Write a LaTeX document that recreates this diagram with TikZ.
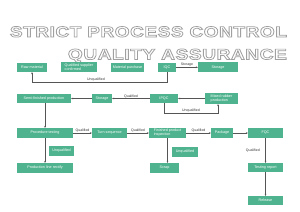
\documentclass[tikz,border=0pt]{standalone}
\usepackage{fontspec}
\setmainfont{Liberation Sans}
\newfontfamily\titlefont[LetterSpace=3]{Liberation Sans}
\usetikzlibrary{arrows.meta}
\definecolor{boxgreen}{HTML}{4FB38F}
\definecolor{linegray}{HTML}{555555}
\definecolor{labgray}{HTML}{333333}
\definecolor{titlegray}{HTML}{A0A0A0}
\newcommand\outlinetext[1]{\special{pdf:literal direct 1 Tr 2 w}#1\special{pdf:literal direct 0 Tr}}
\tikzset{
  box/.style={fill=boxgreen, text=white, inner sep=0pt, align=center, font=\fontsize{10.5}{11.5}\selectfont},
  lab/.style={font=\fontsize{10}{11}\selectfont, text=labgray, inner sep=1.5pt},
  arr/.style={draw=linegray, line width=1.4pt, -{Stealth[length=6pt,width=5pt]}},
  ttl/.style={inner sep=0pt, text=titlegray, font=\titlefont\bfseries\fontsize{43}{44}\selectfont}
}
\begin{document}
\begin{tikzpicture}[x=1mm,y=-1mm]
\useasboundingbox (0,0) rectangle (300,211);
% title
\node[ttl, anchor=base east] (t1) at (287,37) {\resizebox{277mm}{\height}{\outlinetext{STRICT PROCESS CONTROL}}};
\node[ttl, anchor=base east] (t2) at (287,59.5) {\resizebox{219mm}{\height}{\outlinetext{QUALITY ASSURANCE}}};
% row 1
\node[box, minimum width=30mm, minimum height=9.5mm] (raw) at (32,67.3) {Raw material};
\node[box, minimum width=36mm, minimum height=10mm, align=left] (qsc) at (79,67.3) {Qualified supplier\\confirmed};
\node[box, minimum width=33mm, minimum height=9.5mm] (mp) at (127.5,67.3) {Material purchase};
\node[box, minimum width=18mm, minimum height=9.5mm] (iqc) at (167,67.3) {IQC};
\node[box, minimum width=40mm, minimum height=10mm] (sto1) at (218,67.3) {Storage};
% row 2
\node[box, minimum width=54mm, minimum height=9.5mm] (semi) at (44,98.5) {Semi-finished production};
\node[box, minimum width=20mm, minimum height=9.5mm] (sto2) at (102,98.5) {Storage};
\node[box, minimum width=28mm, minimum height=9.5mm] (ipqc) at (164,98.5) {IPQC};
\node[box, minimum width=33mm, minimum height=11mm, align=left] (mix) at (221.5,98.5) {Mixed rubber\\production};
% row 3
\node[box, minimum width=56mm, minimum height=10mm] (proc) at (45,133) {Procedure testing};
\node[box, minimum width=35mm, minimum height=10mm] (turn) at (109.5,133) {Turn sequence};
\node[box, minimum width=37mm, minimum height=10mm, align=left] (fin) at (167.5,133) {Finished product\\inspection};
\node[box, minimum width=22mm, minimum height=10mm] (pkg) at (222,133) {Package};
\node[box, minimum width=35mm, minimum height=10mm] (fqc) at (265.5,133) {FQC};
% row 4
\node[box, minimum width=25mm, minimum height=10mm] (unq1) at (61.5,151) {Unqualified};
\node[box, minimum width=26mm, minimum height=10mm] (unq2) at (185,152) {Unqualified};
\node[box, minimum width=56mm, minimum height=10mm] (plr) at (45,168) {Production line rectify};
\node[box, minimum width=29mm, minimum height=10mm] (scrap) at (164.5,168) {Scrap};
\node[box, minimum width=35mm, minimum height=9mm] (test) at (265.5,167.5) {Testing report};
\node[box, minimum width=35mm, minimum height=9mm] (rel) at (265.5,200.5) {Release};
% helper coordinates
\coordinate (l1y) at (0,82);
\coordinate (l2y) at (0,113);
\coordinate (m2x) at (218,0);
% connectors
\draw[arr] (iqc.east) -- node[lab, above] (ls) {Storage} (sto1.west |- iqc.east);
\draw[arr] (iqc.south) -- (iqc.south |- l1y) -| node[lab, pos=0.263, above] (lu1) {Unqualified} (raw.south);
\draw[arr] (mix.west) -- (ipqc.east);
\draw[arr] (ipqc.west) -- node[lab, above] (lq1) {Qualified} (sto2.east);
\draw[arr] (sto2.west) -- (semi.east);
\draw[arr] (ipqc.south) -- (ipqc.south |- l2y) -| node[lab, pos=0.25, above] (lu2) {Unqualified} (mix.south -| m2x);
\draw[arr] (proc.north |- semi.south) -- (proc.north);
\draw[arr] (proc.east) -- node[lab, above] (lq2) {Qualified} (turn.west);
\draw[arr] (turn.east) -- node[lab, above] (lq3) {Qualified} (fin.west);
\draw[arr] (fin.east) -- node[lab, above] (lq4) {Qualified} (pkg.west);
\draw[arr] (pkg.east) -- (fqc.west);
\draw[arr] (proc.south) -- (plr.north);
\draw[arr] (fin.south) -- (fin.south |- scrap.north);
\draw[arr] (fqc.south) -- node[lab, left, xshift=-5mm] (lq5) {Qualified} (test.north);
\draw[arr] (test.south) -- (rel.north);
\end{tikzpicture}
\end{document}
